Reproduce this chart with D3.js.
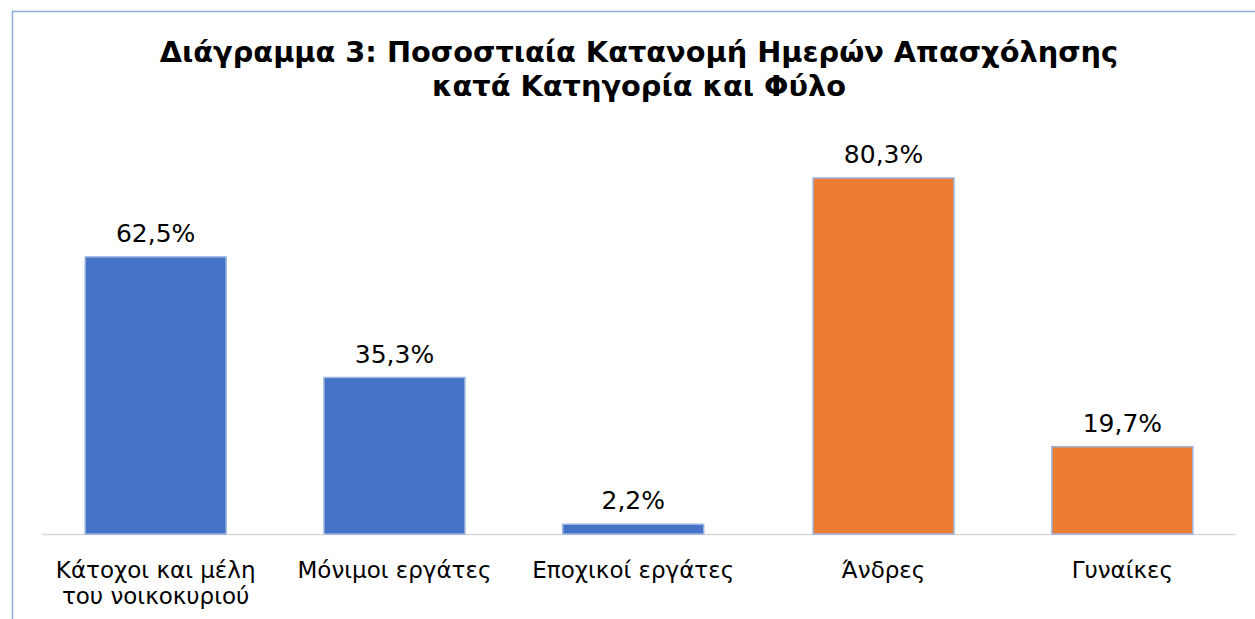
<!DOCTYPE html>
<html>
<head>
<meta charset="utf-8">
<script src="https://cdn.jsdelivr.net/npm/d3@7"></script>
<style>
  body { margin: 0; background: #fff; }
  svg { display: block; }
</style>
</head>
<body>
<script>
// chart data
const categories = ["Κάτοχοι και μέλη|του νοικοκυριού", "Μόνιμοι εργάτες", "Εποχικοί εργάτες", "Άνδρες", "Γυναίκες"];
const seriesNames = ["Κατηγορία", "Φύλο"];
const values = [62.5, 35.3, 2.2, 80.3, 19.7];
const seriesOf = ["Κατηγορία", "Κατηγορία", "Κατηγορία", "Φύλο", "Φύλο"];
const titleLines = ["Διάγραμμα 3: Ποσοστιαία Κατανομή Ημερών Απασχόλησης", "κατά Κατηγορία και Φύλο"];

const W = 1255, H = 619;
const font = "DejaVu Sans, Verdana, sans-serif";

const svg = d3.select("body").append("svg")
  .attr("width", W)
  .attr("height", H);

// chart frame (only top & left edges visible)
svg.append("rect")
  .attr("x", 12.5).attr("y", 11.5)
  .attr("width", W + 20).attr("height", H + 20)
  .attr("fill", "none")
  .attr("stroke", "#8faadc")
  .attr("stroke-width", 1.5);

// title
svg.append("text")
  .attr("x", 639)
  .attr("y", 62)
  .attr("text-anchor", "middle")
  .attr("font-family", font)
  .attr("font-weight", "bold")
  .attr("font-size", 28.8)
  .attr("fill", "#000")
  .selectAll("tspan")
  .data(titleLines)
  .join("tspan")
  .attr("x", 639)
  .attr("dy", (d, i) => i === 0 ? 0 : 34)
  .text(d => d);

// scales
const x = d3.scaleBand()
  .domain(categories)
  .range([42, 1236])
  .paddingInner(0.41)
  .paddingOuter(0.205);

const shift = d3.scalePoint()
  .domain(seriesNames)
  .range([-5.75, 5.75]);

const color = d3.scaleOrdinal()
  .domain(seriesNames)
  .range(["#4472c4", "#ed7d31"]);

const y = d3.scaleLinear()
  .domain([0, 90])
  .range([534, 135]);

const cx = (d, i) => x(d) + x.bandwidth() / 2 + shift(seriesOf[i]);

// baseline
svg.append("line")
  .attr("x1", 42).attr("x2", 1236)
  .attr("y1", y(0) + 0.5).attr("y2", y(0) + 0.5)
  .attr("stroke", "#d9d9d9")
  .attr("stroke-width", 1.5);

// bars
svg.append("g")
  .selectAll("rect")
  .data(categories)
  .join("rect")
  .attr("x", (d, i) => x(d) + shift(seriesOf[i]))
  .attr("y", (d, i) => y(values[i]))
  .attr("width", x.bandwidth())
  .attr("height", (d, i) => y(0) - y(values[i]))
  .attr("fill", (d, i) => color(seriesOf[i]))
  .attr("stroke", "#9ab3e0")
  .attr("stroke-width", 1.5);

// value labels
svg.append("g")
  .selectAll("text")
  .data(categories)
  .join("text")
  .attr("x", cx)
  .attr("y", (d, i) => y(values[i]) - 15)
  .attr("text-anchor", "middle")
  .attr("font-family", font)
  .attr("font-size", 25)
  .attr("fill", "#000")
  .text((d, i) => d3.format(".1f")(values[i]).replace(".", ",") + "%");

// category labels
const lab = svg.append("g")
  .selectAll("text")
  .data(categories)
  .join("text")
  .attr("text-anchor", "middle")
  .attr("font-family", font)
  .attr("font-size", 23)
  .attr("fill", "#000")
  .attr("y", 578);

lab.selectAll("tspan")
  .data((d, i) => d.split("|").map(t => ({ t, x: cx(d, i) })))
  .join("tspan")
  .attr("x", d => d.x)
  .attr("dy", (d, i) => i === 0 ? 0 : 26)
  .text(d => d.t);
</script>
</body>
</html>
